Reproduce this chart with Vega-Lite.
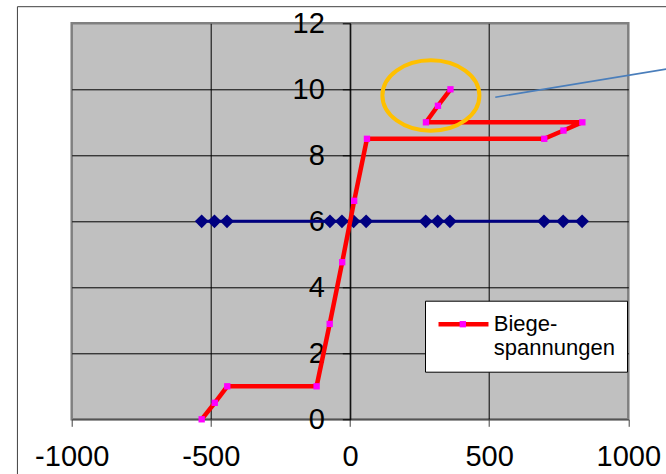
{
  "$schema": "https://vega.github.io/schema/vega-lite/v6.json",
  "width": 556.6,
  "height": 396,
  "autosize": {"type": "none"},
  "padding": {"left": 71.7, "top": 23.3, "right": 37.7, "bottom": 54.7},
  "background": "white",
  "config": {
    "font": "Liberation Sans",
    "view": {"fill": "#C0C0C0", "stroke": "#808080", "strokeWidth": 2.5}
  },
  "datasets": {
    "werte": [
      {"series": "Biegespannungen", "i": 1, "x": -533, "y": 0},
      {"series": "Biegespannungen", "i": 2, "x": -486, "y": 0.5},
      {"series": "Biegespannungen", "i": 3, "x": -441, "y": 1.0},
      {"series": "Biegespannungen", "i": 4, "x": -120, "y": 1.0},
      {"series": "Biegespannungen", "i": 5, "x": -73, "y": 2.89},
      {"series": "Biegespannungen", "i": 6, "x": -28, "y": 4.76},
      {"series": "Biegespannungen", "i": 7, "x": 15, "y": 6.62},
      {"series": "Biegespannungen", "i": 8, "x": 61, "y": 8.5},
      {"series": "Biegespannungen", "i": 9, "x": 698, "y": 8.5},
      {"series": "Biegespannungen", "i": 10, "x": 767, "y": 8.75},
      {"series": "Biegespannungen", "i": 11, "x": 835, "y": 9.0},
      {"series": "Biegespannungen", "i": 12, "x": 273, "y": 9.0},
      {"series": "Biegespannungen", "i": 13, "x": 316, "y": 9.5},
      {"series": "Biegespannungen", "i": 14, "x": 361, "y": 10.0},
      {"series": "Nulllinie", "i": 1, "x": -533, "y": 6},
      {"series": "Nulllinie", "i": 2, "x": -487, "y": 6},
      {"series": "Nulllinie", "i": 3, "x": -442, "y": 6},
      {"series": "Nulllinie", "i": 4, "x": -72, "y": 6},
      {"series": "Nulllinie", "i": 5, "x": -29, "y": 6},
      {"series": "Nulllinie", "i": 6, "x": 13, "y": 6},
      {"series": "Nulllinie", "i": 7, "x": 58, "y": 6},
      {"series": "Nulllinie", "i": 8, "x": 272, "y": 6},
      {"series": "Nulllinie", "i": 9, "x": 315, "y": 6},
      {"series": "Nulllinie", "i": 10, "x": 359, "y": 6},
      {"series": "Nulllinie", "i": 11, "x": 697, "y": 6},
      {"series": "Nulllinie", "i": 12, "x": 766, "y": 6},
      {"series": "Nulllinie", "i": 13, "x": 834, "y": 6}
    ],
    "markierungen": [
      {"kind": "rahmen", "x": -1195, "y": 12.503, "x2": 1400, "y2": -3},
      {"kind": "kreis", "x": 290.7, "y": 9.81},
      {"kind": "zeiger", "x": 522, "y": 9.76, "x2": 1257, "y2": 10.78}
    ]
  },
  "data": {"name": "werte"},
  "encoding": {
    "x": {
      "field": "x", "type": "quantitative",
      "scale": {"domain": [-1000, 1000], "nice": false, "zero": false},
      "axis": {
        "title": null,
        "values": [-1000, -500, 0, 500, 1000],
        "grid": true,
        "gridColor": {"condition": {"test": "abs(datum.value) == 1000", "value": "transparent"}, "value": "black"},
        "gridWidth": 1,
        "domainColor": "#404040",
        "tickColor": "#404040",
        "tickSize": 7,
        "labelFontSize": 29,
        "labelColor": "black",
        "labelPadding": 15.7,
        "labelFlush": false,
        "labelOverlap": false,
        "labelBound": false,
        "labelExpr": "'' + datum.value"
      }
    },
    "y": {
      "field": "y", "type": "quantitative",
      "scale": {"domain": [0, 12], "nice": false, "zero": false},
      "axis": {
        "title": null,
        "values": [0, 2, 4, 6, 8, 10, 12],
        "offset": -278.6,
        "grid": true,
        "gridColor": {"condition": {"test": "datum.value == 0 || datum.value == 12", "value": "transparent"}, "value": "black"},
        "gridWidth": 1,
        "domainColor": "black",
        "tickColor": "black",
        "tickSize": 8,
        "labelFontSize": 29,
        "labelColor": "black",
        "labelPadding": 18,
        "labelOverlap": false,
        "labelBound": false,
        "labelExpr": "'' + datum.value"
      }
    }
  },
  "layer": [
    {
      "data": {"name": "markierungen"},
      "transform": [{"filter": "datum.kind == 'rahmen'"}],
      "mark": {"type": "rect", "fill": "transparent", "stroke": "#404040", "strokeWidth": 1},
      "encoding": {
        "x2": {"field": "x2"},
        "y2": {"field": "y2"}
      }
    },
    {
      "transform": [{"filter": "datum.series == 'Nulllinie'"}],
      "mark": {"type": "line", "color": "#000080", "strokeWidth": 3},
      "encoding": {"order": {"field": "i"}}
    },
    {
      "transform": [{"filter": "datum.series == 'Nulllinie'"}],
      "mark": {"type": "point", "shape": "diamond", "filled": true, "color": "#000080", "size": 190, "opacity": 1}
    },
    {
      "transform": [{"filter": "datum.series == 'Biegespannungen'"}],
      "mark": {"type": "line", "strokeWidth": 4.5, "strokeJoin": "round"},
      "encoding": {
        "order": {"field": "i"},
        "color": {
          "field": "series", "type": "nominal",
          "scale": {"domain": ["Biegespannungen"], "range": ["#FF0000"]},
          "legend": {
            "orient": "none", "legendX": 353.3, "legendY": 277.4,
            "title": null,
            "fillColor": "white", "strokeColor": "black",
            "padding": 11.6,
            "symbolType": "M -2.66 0 L 2.66 0", "symbolSize": 353, "symbolStrokeWidth": 4.5,
            "symbolStrokeColor": "#FF0000",
            "symbolOffset": 14.9, "labelOffset": 18.3,
            "labelFontSize": 22, "labelColor": "black", "labelLimit": 400,
            "labelExpr": "['Biege-', 'spannungen']"
          }
        }
      }
    },
    {
      "transform": [{"filter": "datum.series == 'Biegespannungen'"}],
      "mark": {"type": "point", "shape": "square", "filled": true, "size": 40, "opacity": 1},
      "encoding": {
        "fill": {
          "datum": "Marker",
          "scale": {"range": ["#FF00FF"]},
          "legend": {
            "orient": "none", "legendX": 387.6, "legendY": 297.4,
            "title": null, "padding": 0,
            "symbolType": "square", "symbolSize": 40, "symbolStrokeWidth": 0,
            "symbolOpacity": 1,
            "labelFontSize": 6, "labelExpr": "''"
          }
        }
      }
    },
    {
      "data": {"name": "markierungen"},
      "transform": [{"filter": "datum.kind == 'kreis'"}],
      "mark": {"type": "point", "shape": "M -1 0 A 1 0.726 0 1 1 1 0 A 1 0.726 0 1 1 -1 0 Z", "filled": false, "stroke": "#FFC000", "strokeWidth": 4, "size": 9409, "opacity": 1}
    },
    {
      "data": {"name": "markierungen"},
      "transform": [{"filter": "datum.kind == 'zeiger'"}],
      "mark": {"type": "rule", "color": "#4A7EBB", "strokeWidth": 1.5},
      "encoding": {
        "x2": {"field": "x2"},
        "y2": {"field": "y2"}
      }
    }
  ]
}
